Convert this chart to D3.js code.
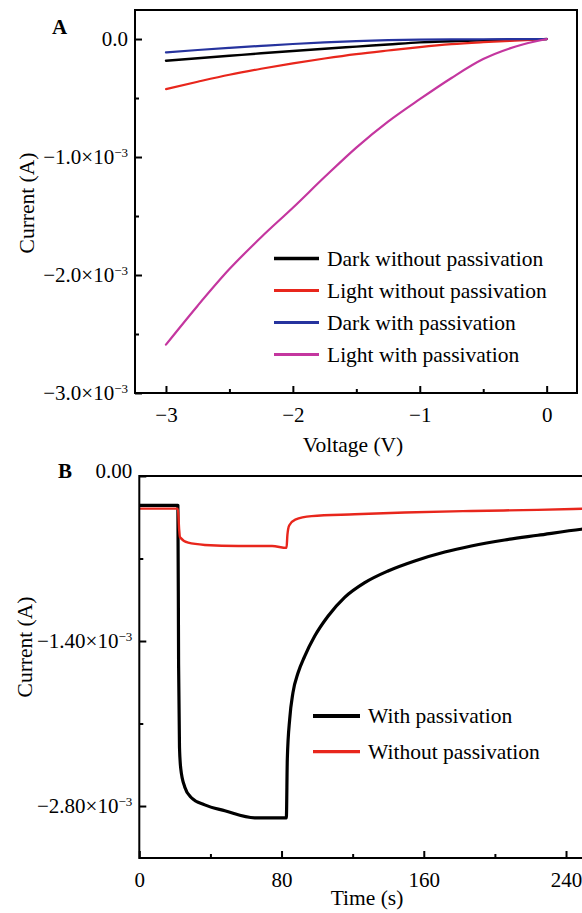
<!DOCTYPE html>
<html><head><meta charset="utf-8">
<script src="https://cdn.jsdelivr.net/npm/d3@7"></script>
<style>
body{margin:0;background:#fff;}
svg{display:block;font-family:"Liberation Serif","Times New Roman",serif;}
</style></head><body>
<svg id="chart" width="582" height="913"></svg>
<script>
// ---------- Panel A data (I–V) ----------
const voltage = [-3, -2.75, -2.5, -2.25, -2, -1.75, -1.5, -1.25, -1, -0.75, -0.5, -0.25, 0];
const darkWithout  = [-0.184e-3, -0.163e-3, -0.142e-3, -0.121e-3, -0.101e-3, -0.082e-3, -0.064e-3, -0.046e-3, -0.028e-3, -0.019e-3, -0.011e-3, -0.005e-3, 0];
const lightWithout = [-0.424e-3, -0.362e-3, -0.303e-3, -0.252e-3, -0.206e-3, -0.165e-3, -0.128e-3, -0.097e-3, -0.068e-3, -0.044e-3, -0.027e-3, -0.013e-3, 0];
const darkWith     = [-0.113e-3, -0.093e-3, -0.075e-3, -0.058e-3, -0.042e-3, -0.029e-3, -0.018e-3, -0.010e-3, -0.005e-3, -0.003e-3, -0.002e-3, -0.001e-3, 0];
const lightWith    = [-2.59e-3, -2.26e-3, -1.95e-3, -1.68e-3, -1.43e-3, -1.17e-3, -0.92e-3, -0.70e-3, -0.51e-3, -0.33e-3, -0.17e-3, -0.065e-3, 0];
const seriesANames  = ["Dark without passivation", "Light without passivation", "Dark with passivation", "Light with passivation"];
const seriesAColors = ["#000000", "#e8261c", "#26339e", "#c4369f"];

const xTicksA = [-3, -2, -1, 0];
const xTickLabelsA = ["−3", "−2", "−1", "0"];
const xMinorA = [-2.5, -1.5, -0.5];
const yTicksA = [0, -1e-3, -2e-3, -3e-3];
const yTickMantA = ["0.0", "−1.0", "−2.0", "−3.0"];
const yTickExpA = [null, "−3", "−3", "−3"];
const yMinorA = [-0.5e-3, -1.5e-3, -2.5e-3];

// ---------- Panel B data (I–t) ----------
const timeWith = [0, 21.7, 22.1, 22.6, 23.3, 25.6, 29.3, 36.8, 48.1, 64.9, 82.7, 83.25, 84.6, 86.4, 89.3, 93.0, 98.6, 106.1, 115.5, 126.8, 139.9, 154.9, 171.8, 186.7, 205.5, 224.2, 248.6, 253];
const currentWith = [-0.249e-3, -0.249e-3, -1.6e-3, -2.30e-3, -2.48e-3, -2.64e-3, -2.73e-3, -2.79e-3, -2.84e-3, -2.90e-3, -2.90e-3, -2.40e-3, -2.06e-3, -1.84e-3, -1.67e-3, -1.53e-3, -1.36e-3, -1.19e-3, -1.03e-3, -0.905e-3, -0.806e-3, -0.721e-3, -0.645e-3, -0.594e-3, -0.543e-3, -0.503e-3, -0.452e-3, -0.445e-3];
const timeWithout = [0, 21.7, 22.4, 22.9, 27.5, 36.9, 55.7, 74.7, 82.8, 83.3, 84.3, 87.7, 96.9, 121.1, 149.3, 186.7, 224, 253];
const currentWithout = [-0.277e-3, -0.277e-3, -0.45e-3, -0.52e-3, -0.566e-3, -0.585e-3, -0.594e-3, -0.594e-3, -0.61e-3, -0.50e-3, -0.42e-3, -0.37e-3, -0.34e-3, -0.325e-3, -0.31e-3, -0.297e-3, -0.287e-3, -0.277e-3];
const seriesBNames = ["With passivation", "Without passivation"];
const seriesBColors = ["#000000", "#e8261c"];

const xTicksB = [0, 80, 160, 240];
const xTickLabelsB = ["0", "80", "160", "240"];
const xMinorB = [40, 120, 200];
const yTicksB = [0, -1.4e-3, -2.8e-3];
const yTickMantB = ["0.00", "−1.40", "−2.80"];
const yTickExpB = [null, "−3", "−3"];
const yMinorB = [-0.7e-3, -2.1e-3];

// ---------- drawing ----------
const svg = d3.select("#chart");
const FS_TICK = 21;
const FS_TEXT = 21.5;

function styleAxis(g) {
  g.select(".domain").remove();
  g.selectAll(".tick line").attr("stroke", "#000").attr("stroke-width", 2);
  g.selectAll("text").attr("font-family", "Liberation Serif, Times New Roman, serif").attr("font-size", FS_TICK).attr("fill", "#000");
  g.attr("font-family", null).attr("font-size", null);
}

function yLabels(g, mant, exps, firstDy) {
  g.selectAll(".tick text").each(function(d, i) {
    const t = d3.select(this);
    t.text(mant[i]);
    if (exps[i]) {
      t.append("tspan").text("×10");
      t.append("tspan").attr("dy", -7).attr("font-size", 13).text(exps[i]);
    }
    if (i === 0 && firstDy != null) t.attr("dy", firstDy);
  });
}

function panel(opt) {
  const { left, right, top, bottom, xDomain, yDomain } = opt;
  const x = d3.scaleLinear().domain(xDomain).range([left, right]);
  const y = d3.scaleLinear().domain(yDomain).range([bottom, top]);
  const g = svg.append("g");
  const clipId = "clip" + opt.id;
  svg.append("clipPath").attr("id", clipId).append("rect")
    .attr("x", left).attr("y", top).attr("width", right - left).attr("height", bottom - top);

  const plot = g.append("g").attr("clip-path", `url(#${clipId})`);
  opt.series.forEach(s => {
    const pts = s.xs.map((v, i) => [v, s.ys[i]]);
    plot.append("path")
      .attr("d", d3.line().x(d => x(d[0])).y(d => y(d[1])).curve(d3.curveMonotoneX)(pts))
      .attr("fill", "none").attr("stroke", s.color).attr("stroke-width", s.width)
      .attr("stroke-linejoin", "round").attr("stroke-linecap", "round");
  });

  g.append("rect").attr("x", left).attr("y", top).attr("width", right - left).attr("height", bottom - top)
    .attr("fill", "none").attr("stroke", "#000").attr("stroke-width", 2);

  const xa = g.append("g").attr("transform", `translate(0,${bottom})`)
    .call(d3.axisBottom(x).tickValues(opt.xTicks).tickFormat((d, i) => opt.xLabels[i]).tickSize(-7).tickPadding(14));
  styleAxis(xa);
  const xm = g.append("g").attr("transform", `translate(0,${bottom})`)
    .call(d3.axisBottom(x).tickValues(opt.xMinor).tickFormat("").tickSize(-4));
  styleAxis(xm);

  const ya = g.append("g").attr("transform", `translate(${left},0)`)
    .call(d3.axisLeft(y).tickValues(opt.yTicks).tickSize(-7).tickPadding(7));
  styleAxis(ya);
  yLabels(ya, opt.yMant, opt.yExp, opt.firstDy);
  const ym = g.append("g").attr("transform", `translate(${left},0)`)
    .call(d3.axisLeft(y).tickValues(opt.yMinor).tickFormat("").tickSize(-4));
  styleAxis(ym);

  g.append("text").attr("x", opt.xTitlePos[0]).attr("y", opt.xTitlePos[1]).attr("text-anchor", "middle")
    .attr("font-size", FS_TEXT).text(opt.xTitle);
  g.append("text").attr("transform", `translate(${opt.yTitlePos[0]},${opt.yTitlePos[1]}) rotate(-90)`)
    .attr("text-anchor", "middle").attr("dominant-baseline", "central").attr("font-size", FS_TEXT).text(opt.yTitle);
  g.append("text").attr("x", opt.letterPos[0]).attr("y", opt.letterPos[1]).attr("font-size", 21)
    .attr("font-weight", "bold").text(opt.letter);

  opt.series.forEach((s, i) => {
    const ly = opt.legend.y0 + i * opt.legend.dy;
    g.append("line").attr("x1", opt.legend.x1).attr("x2", opt.legend.x2).attr("y1", ly).attr("y2", ly)
      .attr("stroke", s.color).attr("stroke-width", s.legendWidth || s.width + 1);
    g.append("text").attr("x", opt.legend.tx).attr("y", ly + 7).attr("font-size", FS_TEXT).text(s.name);
  });
}

panel({
  id: "A", left: 135, right: 577, top: 10, bottom: 393,
  xDomain: [-3.244, 0.239], yDomain: [-3.0e-3, 0.246e-3],
  xTicks: xTicksA, xLabels: xTickLabelsA, xMinor: xMinorA,
  yTicks: yTicksA, yMant: yTickMantA, yExp: yTickExpA, yMinor: yMinorA,
  xTitle: "Voltage (V)", xTitlePos: [353, 452],
  yTitle: "Current (A)", yTitlePos: [27, 203],
  letter: "A", letterPos: [52, 34],
  series: [
    { name: seriesANames[0], xs: voltage, ys: darkWithout, color: seriesAColors[0], width: 2.4 },
    { name: seriesANames[1], xs: voltage, ys: lightWithout, color: seriesAColors[1], width: 2.2 },
    { name: seriesANames[2], xs: voltage, ys: darkWith, color: seriesAColors[2], width: 2.2 },
    { name: seriesANames[3], xs: voltage, ys: lightWith, color: seriesAColors[3], width: 2.2 }
  ],
  legend: { x1: 274, x2: 319, tx: 327, y0: 258.5, dy: 32 }
});

panel({
  id: "B", left: 139.3, right: 590, top: 476, bottom: 858,
  xDomain: [0, (590 - 139.3) / 1.778], yDomain: [-3.241e-3, 0],
  xTicks: xTicksB, xLabels: xTickLabelsB, xMinor: xMinorB,
  yTicks: yTicksB, yMant: yTickMantB, yExp: yTickExpB, yMinor: yMinorB, firstDy: "0.05em",
  xTitle: "Time (s)", xTitlePos: [367, 905],
  yTitle: "Current (A)", yTitlePos: [25, 647],
  letter: "B", letterPos: [58, 478],
  series: [
    { name: seriesBNames[0], xs: timeWith, ys: currentWith, color: seriesBColors[0], width: 3.2, legendWidth: 4 },
    { name: seriesBNames[1], xs: timeWithout, ys: currentWithout, color: seriesBColors[1], width: 2.4, legendWidth: 3.2 }
  ],
  legend: { x1: 313, x2: 360, tx: 368, y0: 716, dy: 35.7 }
});
</script>
</body></html>
